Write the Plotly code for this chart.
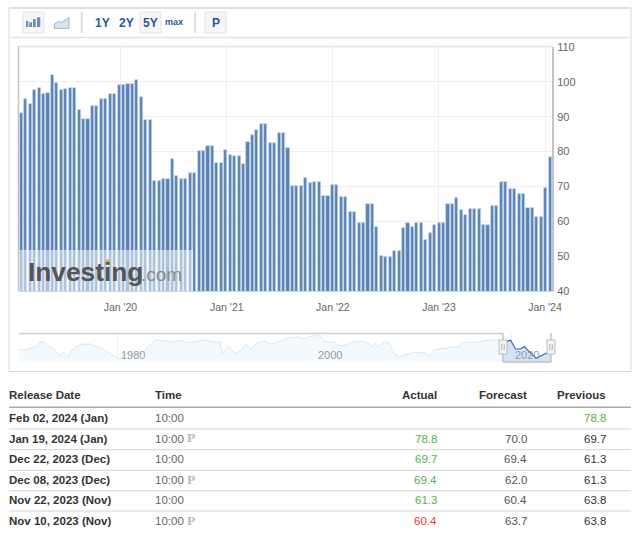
import pandas as pd
import plotly.graph_objects as go

W, H = 640, 542

# University of Michigan consumer sentiment, two readings per month
sentiment = [
    91.1, 95.2, 93.6, 97.6, 98.1, 96.5, 96.8, 102.0, 99.8, 97.6, 97.9, 98.1, 98.1, 91.8, 89.4,
    89.4, 93.0, 93.0, 95.2, 95.2, 96.6, 96.6, 99.0, 99.0, 99.5, 99.5, 100.6, 95.7, 89.0, 89.0,
    71.6, 71.6, 72.1, 72.1, 78.0, 73.0, 72.2, 72.2, 73.8, 73.8, 80.1, 80.1, 81.5, 81.5, 76.6,
    76.6, 80.4, 79.0, 78.6, 78.6, 76.5, 82.8, 84.7, 86.1, 88.0, 88.0, 82.5, 82.5, 85.2, 85.2,
    80.9, 70.1, 70.1, 70.1, 72.5, 71.1, 71.4, 71.4, 67.3, 67.3, 70.3, 70.3, 67.0, 67.0, 62.6,
    62.6, 59.4, 59.4, 65.0, 65.0, 58.3, 50.0, 49.8, 49.8, 51.4, 51.4, 58.0, 59.4, 58.4, 59.6,
    59.6, 54.6, 56.5, 59.0, 59.6, 59.6, 64.9, 64.9, 66.7, 63.1, 61.8, 63.4, 63.4, 63.4, 59.0,
    59.0, 64.3, 64.3, 71.4, 71.4, 69.2, 69.2, 67.8, 67.8, 63.7, 63.7, 61.2, 61.2, 69.5, 78.5,
]
release_dates = pd.date_range("2019-01-25", "2024-01-19", periods=len(sentiment))

y_ticks = [40, 50, 60, 70, 80, 90, 100, 110]
x_tick_dates = ["2020-01-01", "2021-01-01", "2022-01-01", "2023-01-01", "2024-01-01"]
x_tick_labels = ["Jan '20", "Jan '21", "Jan '22", "Jan '23", "Jan '24"]

# Navigator: full history overview
nav_years = [
    1970.0, 1970.6, 1971.1, 1971.8, 1972.1, 1972.5, 1973.0, 1973.5, 1974.0, 1974.1, 1974.5, 1975.0,
    1975.3, 1975.8, 1976.5, 1977.2, 1977.9, 1978.5, 1979.2, 1979.9, 1980.3, 1980.7, 1982.6, 1983.1,
    1983.9, 1984.9, 1985.6, 1986.3, 1987.0, 1988.0, 1988.7, 1989.7, 1990.4, 1990.7, 1991.2, 1991.5,
    1992.0, 1992.7, 1993.0, 1993.6, 1994.1, 1994.9, 1995.6, 1996.4, 1997.4, 1998.5, 1998.8, 1999.8,
    2000.6, 2001.0, 2001.5, 2002.0, 2002.5, 2003.2, 2003.9, 2004.9, 2005.6, 2005.7, 2006.1, 2006.4,
    2007.1, 2007.6, 2008.1, 2008.6, 2009.1, 2010.3, 2011.3, 2011.6, 2012.2, 2013.3, 2014.7, 2015.0,
    2016.4, 2017.7, 2018.7, 2019.1, 2019.4, 2019.9, 2020.4, 2020.9, 2021.3, 2021.6, 2022.5, 2023.5, 2024.0,
]
nav_values = [
    78.2, 74.0, 79.9, 84.1, 95.1, 96.8, 86.6, 78.2, 67.2, 58.8, 69.8, 57.1,
    73.1, 84.1, 90.0, 90.9, 84.1, 78.2, 67.2, 58.8, 52.0, 67.0, 67.0, 84.1,
    101.0, 98.5, 96.8, 100.2, 94.3, 96.8, 101.0, 96.8, 95.1, 67.2, 84.1, 79.9,
    67.2, 78.2, 90.0, 78.2, 92.6, 98.5, 90.0, 96.8, 106.9, 107.8, 103.5, 111.2,
    112.0, 96.8, 95.1, 96.8, 86.6, 88.3, 96.8, 96.8, 92.6, 81.6, 92.6, 84.1,
    95.1, 92.6, 67.2, 56.2, 63.0, 69.8, 67.2, 58.8, 75.7, 79.9, 84.1, 95.1,
    95.1, 100.2, 101.0, 98.0, 96.8, 100.2, 78.2, 78.0, 84.1, 75.7, 54.5, 67.2, 71.0,
]
nav_selected_start = 2019.1
nav_tick_years = [1980, 2000, 2020]

# Table
table_headers = ["Release Date", "Time", "Actual", "Forecast", "Previous"]
release_labels = ["Feb 02, 2024 (Jan)", "Jan 19, 2024 (Jan)", "Dec 22, 2023 (Dec)",
                  "Dec 08, 2023 (Dec)", "Nov 22, 2023 (Nov)", "Nov 10, 2023 (Nov)"]
time_labels = ["10:00"] * 6
preliminary = [False, True, False, True, False, True]
actual = ["", "78.8", "69.7", "69.4", "61.3", "60.4"]
actual_dir = ["", "up", "up", "up", "up", "down"]
forecast = ["", "70.0", "69.4", "62.0", "60.4", "63.7"]
previous = ["78.8", "69.7", "61.3", "61.3", "63.8", "63.8"]

FONT = "Liberation Sans, Arial, sans-serif"
BLUE_TXT = "#1d5a9c"
GREEN = "#4fb548"
RED = "#f5333f"


def px(x):
    return x / W


def py(y):
    return 1 - y / H


shapes, annotations = [], []


def rect(x0, y0, x1, y1, fill="rgba(0,0,0,0)", line="rgba(0,0,0,0)", lw=1, layer="above"):
    shapes.append(dict(type="rect", xref="paper", yref="paper", x0=px(x0), x1=px(x1),
                       y0=py(y1), y1=py(y0), fillcolor=fill,
                       line=dict(color=line, width=lw), layer=layer))


def hline(x0, x1, y, color, lw=1):
    shapes.append(dict(type="line", xref="paper", yref="paper", x0=px(x0), x1=px(x1),
                       y0=py(y), y1=py(y), line=dict(color=color, width=lw)))


def vline(x, y0, y1, color, lw=1):
    shapes.append(dict(type="line", xref="paper", yref="paper", x0=px(x), x1=px(x),
                       y0=py(y0), y1=py(y1), line=dict(color=color, width=lw)))


def text(x, y, s, size=11.5, color="#333", anchor="left", family=FONT):
    annotations.append(dict(xref="paper", yref="paper", x=px(x), y=py(y), text=s, showarrow=False,
                            xanchor=anchor, yanchor="middle", xshift=0, borderpad=0, borderwidth=0,
                            font=dict(family=family, size=size, color=color)))


fig = go.Figure()
bar_ms = 15.3 * 86400000 * 0.70
fig.add_trace(go.Bar(x=release_dates, y=sentiment, width=bar_ms, xaxis="x", yaxis="y",
                     marker=dict(color="#5a82b4", line=dict(color="#c3d4e8", width=0.7)),
                     hoverinfo="skip"))

fig.add_trace(go.Scatter(x=nav_years, y=nav_values, xaxis="x2", yaxis="y2", mode="lines",
                         line=dict(color="#dbe7f2", width=1), fill="tozeroy",
                         fillcolor="#f4f9fe", hoverinfo="skip"))
sel = [(a, b) for a, b in zip(nav_years, nav_values) if a >= nav_selected_start]
fig.add_trace(go.Scatter(x=[a for a, _ in sel], y=[b for _, b in sel], xaxis="x2", yaxis="y2",
                         mode="lines", line=dict(color="#2a6cb4", width=1.2), fill="tozeroy",
                         fillcolor="#d2e4f9", hoverinfo="skip"))

# outer frame and toolbar
rect(9, 8, 631, 371.5, line="#d9d9d9", lw=1, layer="below")
hline(9, 631, 8, "#dddddd", 1.5)
hline(9, 631, 37.5, "#e2e2e2", 1.5)
rect(23, 12, 44, 33, fill="#f6f6f6", line="#e2e2e2")
for x0, x1, yt in [(26, 28.3, 21), (29.3, 32, 22.3), (33, 35.7, 19), (37, 40.3, 17.3)]:
    rect(x0, yt, x1, 27, fill="#6a8fb9")
shapes.append(dict(type="path", xref="paper", yref="paper",
                   path=f"M {px(54.3)} {py(24.3)} L {px(58.3)} {py(21.7)} L {px(61.7)} {py(22.3)} "
                        f"L {px(69)} {py(17.7)} L {px(69)} {py(28.3)} L {px(54.3)} {py(28.3)} Z",
                   fillcolor="#d9e5f1", line=dict(color="#93b3d2", width=1)))
vline(81.7, 12, 33, "#e0e0e0", 2)
vline(195, 12, 33, "#e0e0e0", 2)
rect(140, 12, 161, 33, fill="#f6f6f6", line="#e2e2e2")
rect(205, 12, 226, 33, fill="#f6f6f6", line="#e2e2e2")
text(102, 22.5, "<b>1Y</b>", 12, BLUE_TXT, "center")
text(126, 22.5, "<b>2Y</b>", 12, BLUE_TXT, "center")
text(150.5, 22.5, "<b>5Y</b>", 12, BLUE_TXT, "center")
text(174, 22, "<b>max</b>", 9, BLUE_TXT, "center")
text(215.5, 22.5, "<b>P</b>", 12, BLUE_TXT, "center")

# plot borders
hline(18.5, 552, 46.5, "#e4e4e4", 1.5)
vline(18.5, 46, 291, "#c4c4c4", 1.5)

# watermark
rect(19, 250, 193, 291, fill="rgba(255,255,255,0.5)")
text(27.5, 271.5, "<b>Investing</b>", 26.3, "#555555")
text(140.5, 274, ".com", 19, "#8a8a8a")
shapes.append(dict(type="circle", xref="paper", yref="paper", x0=px(105.3), x1=px(110.3),
                   y0=py(264.2), y1=py(259.2), fillcolor="#e8a94a", line=dict(width=0)))

# navigator furniture
hline(19, 503, 333.5, "#cfcfcf", 1.5)
hline(503, 551, 362, "#c4c4c4", 1.5)
vline(503, 333, 362, "#c4c4c4", 1.5)
vline(551, 333, 362, "#c4c4c4", 1.5)
for cx in (503, 551):
    rect(cx - 4, 340, cx + 4, 354, fill="#f4f4f4", line="#bdbdbd")
    vline(cx - 1.2, 344, 350, "#b0b0b0", 1)
    vline(cx + 1.2, 344, 350, "#b0b0b0", 1)
for yr in nav_tick_years:
    annotations.append(dict(xref="x2", yref="paper", x=yr, y=py(354.5), text=str(yr), showarrow=False,
                            xanchor="left", yanchor="middle", xshift=1,
                            font=dict(family=FONT, size=11, color="#999999")))

# table
hdr_y = 395
col_x = [9.3, 155, 436.7, 526.7, 605.7]
col_anchor = ["left", "left", "right", "right", "right"]
for hd, x, a in zip(table_headers, col_x, col_anchor):
    text(x, hdr_y, f"<b>{hd}</b>", 11.5, "#333333", a)
hline(9, 631, 407.3, "#ababab", 1.5)
row_y = [417.7, 438.8, 459.3, 480, 500.3, 521.3]
for y, lw, c in [(429, 1.5, "#e2e2e2"), (449.7, 1, "#d4d4d4"), (470.3, 1, "#d4d4d4"),
                 (490.7, 1, "#d4d4d4"), (511, 1, "#d4d4d4")]:
    hline(9, 631, y, c, lw)
for i, y in enumerate(row_y):
    text(col_x[0], y, f"<b>{release_labels[i]}</b>", 11.5, "#333333")
    text(col_x[1], y, time_labels[i], 11.5, "#666666")
    if preliminary[i]:
        text(187, y - 1, "<b>P</b>", 13.5, "#bbbbbb", family="Liberation Serif, serif")
    ac = GREEN if actual_dir[i] == "up" else RED
    if actual[i]:
        text(col_x[2], y, actual[i], 11.5, ac, "right")
    if forecast[i]:
        text(col_x[3], y, forecast[i], 11.5, "#555555", "right")
    text(col_x[4], y, previous[i], 11.5, GREEN if i == 0 else "#333333", "right")

fig.update_layout(
    width=W, height=H, autosize=False, margin=dict(l=0, r=0, t=0, b=0, pad=0, autoexpand=False),
    paper_bgcolor="white", plot_bgcolor="white", showlegend=False,
    font=dict(family=FONT, size=10.5, color="#666666"),
    shapes=shapes, annotations=annotations, bargap=0,
    xaxis=dict(domain=[px(19), px(552)], anchor="y", type="date", automargin=False,
               range=["2019-01-17", "2024-01-25"], tickvals=x_tick_dates, ticktext=x_tick_labels,
               showgrid=True, gridcolor="#eeeeee", gridwidth=1, ticks="outside", ticklen=6,
               tickcolor="rgba(0,0,0,0)", showline=True, linecolor="#c8d6e6", linewidth=1,
               zeroline=False, tickfont=dict(size=10.5, color="#666666")),
    yaxis=dict(domain=[py(291), py(47)], anchor="x", side="right", range=[40, 110], automargin=False,
               tickvals=y_ticks, showgrid=True, gridcolor="#eeeeee", gridwidth=1,
               ticks="outside", ticklen=1, tickcolor="rgba(0,0,0,0)", showline=True,
               linecolor="#c4c4c4", linewidth=2, zeroline=False,
               tickfont=dict(size=11, color="#666666")),
    xaxis2=dict(domain=[px(19), px(551)], anchor="y2", range=[1970, 2024], tickvals=nav_tick_years,
                showticklabels=False, showgrid=True, gridcolor="#f1f1f1", zeroline=False,
                ticks="", showline=False, automargin=False),
    yaxis2=dict(domain=[py(362), py(333)], anchor="x2", range=[45.1, 118.6], showticklabels=False,
                showgrid=False, zeroline=False, ticks="", showline=False, automargin=False),
)

fig.write_html("out.html", config=dict(displayModeBar=False),
               post_script="document.body.style.margin='0';document.body.style.overflow='hidden';")
